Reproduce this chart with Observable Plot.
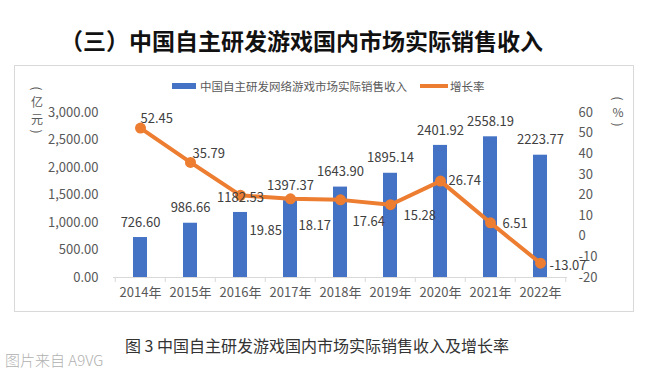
<!DOCTYPE html>
<html><head><meta charset="utf-8">
<script src="https://cdn.jsdelivr.net/npm/d3@7"></script>
<script src="https://cdn.jsdelivr.net/npm/@observablehq/plot@0.6"></script>
<style>
body{margin:0;background:#fff;}
#wrap{position:relative;width:662px;height:372px;overflow:hidden;font-family:"Noto Sans CJK SC","Noto Sans",sans-serif;}
.abs{position:absolute;white-space:nowrap;}
#title{left:60px;top:24px;font-size:23px;font-weight:700;color:#111;line-height:32px;}
#box{left:14px;top:65px;width:620px;height:247px;border:1px solid #d9d9d9;box-sizing:border-box;pointer-events:none;}
#chart{position:absolute;left:0;top:0;}
.leg{font-size:11.5px;color:#595959;line-height:14px;}
.unit{font-size:12px;color:#595959;width:16px;display:flex;flex-direction:column;align-items:center;}
.unit span{display:block;height:17px;line-height:17px;text-align:center;}
.unit span.p{transform:rotate(90deg);height:9px;line-height:9px;font-size:12px;}
#caption{left:125px;top:334px;font-size:16px;color:#333;line-height:22px;}
#credit{left:5px;top:350px;font-size:15px;color:#b0b0b0;font-weight:300;line-height:20px;}
</style></head><body><div id="wrap">
<div id="title" class="abs">（三）中国自主研发游戏国内市场实际销售收入</div>
<div id="chart"></div>
<div id="box" class="abs"></div>
<div class="abs" style="left:172px;top:83px;width:24px;height:6px;background:#4472C4"></div>
<div id="leg1" class="abs leg" style="left:200px;top:79px;"></div>
<div class="abs" style="left:420px;top:84px;width:28px;height:4px;background:#ED7D31"></div>
<div id="leg2" class="abs leg" style="left:450px;top:79px;"></div>
<div id="unitL" class="abs unit" style="left:29px;top:84px;"></div>
<div id="unitR" class="abs unit" style="left:610px;top:94px;"></div>
<div id="caption" class="abs">图 3 中国自主研发游戏国内市场实际销售收入及增长率</div>
<div id="credit" class="abs">图片来自 A9VG</div>
</div>
<script>
const years = ["2014年","2015年","2016年","2017年","2018年","2019年","2020年","2021年","2022年"];
const revenue = [726.60, 986.66, 1182.53, 1397.37, 1643.90, 1895.14, 2401.92, 2558.19, 2223.77];
const growth = [52.45, 35.79, 19.85, 18.17, 17.64, 15.28, 26.74, 6.51, -13.07];
const leftTicks = [0, 500, 1000, 1500, 2000, 2500, 3000];
const rightTicks = [-20, -10, 0, 10, 20, 30, 40, 50, 60];
const seriesNames = ["中国自主研发网络游戏市场实际销售收入", "增长率"];
const unitLeft = "亿元";
const unitRight = "%";

document.getElementById("leg1").textContent = seriesNames[0];
document.getElementById("leg2").textContent = seriesNames[1];
function fillUnit(id, inner) {
  const el = document.getElementById(id);
  const parts = ["(", ...Array.from(inner), ")"];
  parts.forEach((c, k) => {
    const s = document.createElement("span");
    s.textContent = c;
    if (k === 0 || k === parts.length - 1) s.className = "p";
    el.appendChild(s);
  });
}
fillUnit("unitL", unitLeft);
fillUnit("unitR", unitRight);

// label offsets (layout only)
const growthLabelOffsets = [[0,-9],[2,-9],[9,36],[8,27],[12,22],[13,11],[8,0],[12,1],[9,3]];

const W = 662, H = 372, mL = 113, mR = 95, mT = 112, mB = 95;
const step = (W - mL - mR) / years.length;
const yMax = leftTicks[leftTicks.length - 1];
const rMin = rightTicks[0], rMax = rightTicks[rightTicks.length - 1];
const toLeft = g => (g - rMin) * yMax / (rMax - rMin);

const data = years.map((year, i) => ({year, revenue: revenue[i], growth: growth[i], gy: toLeft(growth[i]), i}));
const txt = "#404040";

const growthLabels = data.map((d, i) => Plot.text([d], {
  x: "year", y: "gy", text: d => d.growth.toFixed(2), textAnchor: "start",
  dx: growthLabelOffsets[i][0], dy: growthLabelOffsets[i][1], fill: txt, fontSize: 13
}));

const plot = Plot.plot({
  width: W, height: H, marginLeft: mL, marginRight: mR, marginTop: mT, marginBottom: mB,
  style: {background: "transparent", fontFamily: '"Noto Sans CJK SC","Noto Sans",sans-serif', fontSize: "13px", color: "#595959"},
  x: {domain: years, paddingInner: 0.72, paddingOuter: 0.36, axis: null},
  y: {domain: [0, yMax], axis: null},
  marks: [
    Plot.ruleY([0], {stroke: "#d9d9d9"}),
    Plot.ruleX(years, {x: d => d, dx: -step / 2, y1: 0, y2: 0, insetBottom: -5, stroke: "#d9d9d9"}),
    Plot.ruleX(years.slice(-1), {x: d => d, dx: step / 2, y1: 0, y2: 0, insetBottom: -5, stroke: "#d9d9d9"}),
    Plot.text(years, {x: d => d, frameAnchor: "bottom", dy: 19, fill: "#595959", fontSize: 13}),
    Plot.text(leftTicks, {y: d => d, frameAnchor: "left", dx: -15, textAnchor: "end", text: d => d3.format(",.2f")(d), fill: "#595959", fontSize: 13}),
    Plot.text(rightTicks, {y: d => toLeft(d), frameAnchor: "right", dx: 11, textAnchor: "start", text: d => String(d), fill: "#595959", fontSize: 13}),
    Plot.barY(data, {x: "year", y: "revenue", fill: "#4472C4"}),
    Plot.line(data, {x: "year", y: "gy", stroke: "#ED7D31", strokeWidth: 4, curve: "linear"}),
    Plot.dot(data, {x: "year", y: "gy", r: 5.5, fill: "#ED7D31"}),
    Plot.text(data, {x: "year", y: "revenue", text: d => d.revenue.toFixed(2), dy: -15, fill: txt, fontSize: 13}),
    ...growthLabels
  ]
});
document.getElementById("chart").appendChild(plot);
</script>
</body></html>
